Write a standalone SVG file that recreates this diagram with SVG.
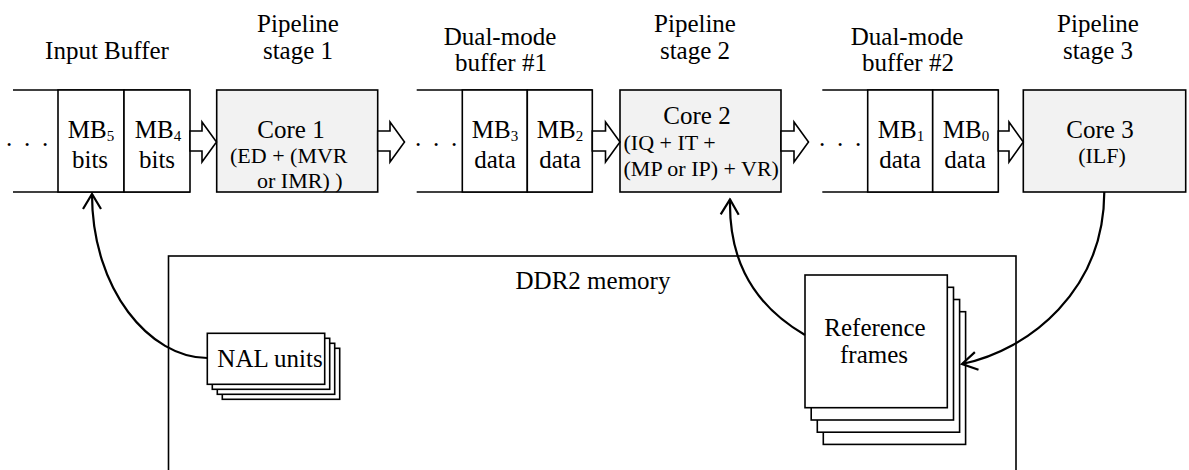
<svg xmlns="http://www.w3.org/2000/svg" width="1189" height="470" viewBox="0 0 1189 470">
<defs>
<style>
text{font-family:"Liberation Serif","Times New Roman",serif;fill:#000}
.t{font-size:25px}
.s{font-size:22px}
.sub{font-size:15px}
.mid{text-anchor:middle}
.box{fill:#fff;stroke:#000;stroke-width:1.6}
.core{fill:#f2f2f2;stroke:#000;stroke-width:1.6}
.ln{stroke:#000;stroke-width:1.6;fill:none}
.harrow{fill:#fff;stroke:#000;stroke-width:1.6;stroke-linejoin:miter}
.curve{fill:none;stroke:#000;stroke-width:2.2}
.dots{font-size:25px;letter-spacing:2.75px}
</style>
<marker id="open" viewBox="-17 -11 19 22" markerWidth="19" markerHeight="22" refX="0" refY="0" orient="auto" markerUnits="userSpaceOnUse">
<path d="M-15,-9 L0,0 L-15,9" fill="none" stroke="#000" stroke-width="2.2"/>
</marker>
</defs>
<rect width="1189" height="470" fill="#fff"/>

<g id="labels">
<text class="t mid" x="107" y="59">Input Buffer</text>
<text class="t mid" x="298" y="32">Pipeline</text>
<text class="t mid" x="298" y="59">stage 1</text>
<text class="t mid" x="500" y="45">Dual-mode</text>
<text class="t mid" x="501" y="71">buffer #1</text>
<text class="t mid" x="695" y="32">Pipeline</text>
<text class="t mid" x="695" y="59">stage 2</text>
<text class="t mid" x="907" y="45">Dual-mode</text>
<text class="t mid" x="908" y="71">buffer #2</text>
<text class="t mid" x="1098" y="32">Pipeline</text>
<text class="t mid" x="1098" y="59">stage 3</text>
</g>

<g id="input-buffer">
<line class="ln" x1="13" y1="90" x2="190" y2="90"/>
<line class="ln" x1="13" y1="192" x2="190" y2="192"/>
<rect class="box" x="58" y="90" width="66" height="102"/>
<rect class="box" x="124" y="90" width="66" height="102"/>
<text class="dots" x="6" y="146">. . .</text>
<text class="t mid" x="91" y="138">MB<tspan class="sub" dy="3">5</tspan></text>
<text class="t mid" x="90" y="168">bits</text>
<text class="t mid" x="158" y="138">MB<tspan class="sub" dy="3">4</tspan></text>
<text class="t mid" x="157" y="168">bits</text>
</g>

<g id="core1">
<rect class="core" x="216.7" y="90" width="161" height="102"/>
<text class="t mid" x="291" y="138">Core 1</text>
<text class="s" x="230" y="163">(ED + (MVR</text>
<text class="s" x="257" y="188">or IMR) )</text>
</g>

<g id="dual-buffer-1">
<line class="ln" x1="416.7" y1="90" x2="592.3" y2="90"/>
<line class="ln" x1="416.7" y1="192" x2="592.3" y2="192"/>
<rect class="box" x="462.3" y="90" width="65" height="102"/>
<rect class="box" x="527.3" y="90" width="65" height="102"/>
<text class="dots" x="415" y="146">. . .</text>
<text class="t mid" x="495" y="138">MB<tspan class="sub" dy="3">3</tspan></text>
<text class="t mid" x="495" y="168">data</text>
<text class="t mid" x="560" y="138">MB<tspan class="sub" dy="3">2</tspan></text>
<text class="t mid" x="560" y="168">data</text>
</g>

<g id="core2">
<rect class="core" x="620" y="90" width="161" height="102"/>
<text class="t mid" x="697" y="124">Core 2</text>
<text class="s" x="623.5" y="150">(IQ + IT +</text>
<text class="s" x="623.5" y="176">(MP or IP) + VR)</text>
</g>

<g id="dual-buffer-2">
<line class="ln" x1="822.3" y1="90" x2="998.3" y2="90"/>
<line class="ln" x1="822.3" y1="192" x2="998.3" y2="192"/>
<rect class="box" x="867.7" y="90" width="65" height="102"/>
<rect class="box" x="932.7" y="90" width="65.6" height="102"/>
<text class="dots" x="819" y="146">. . .</text>
<text class="t mid" x="901" y="138">MB<tspan class="sub" dy="3">1</tspan></text>
<text class="t mid" x="900" y="168">data</text>
<text class="t mid" x="966" y="138">MB<tspan class="sub" dy="3">0</tspan></text>
<text class="t mid" x="965" y="168">data</text>
</g>

<g id="core3">
<rect class="core" x="1023.3" y="90" width="162.4" height="102"/>
<text class="t mid" x="1100" y="138">Core 3</text>
<text class="s mid" x="1102" y="163">(ILF)</text>
</g>

<g id="ddr2-memory">
<rect class="box" x="168.5" y="256" width="847.5" height="240"/>
<text class="t mid" x="593" y="289">DDR2 memory</text>
</g>

<g id="nal-units">
<rect class="box" x="222.3" y="348.3" width="117.4" height="51"/>
<rect class="box" x="217.3" y="343.3" width="117.4" height="51"/>
<rect class="box" x="212.3" y="338.3" width="117.4" height="51"/>
<rect class="box" x="207.3" y="333.3" width="117.4" height="51"/>
<text class="t mid" x="270" y="367">NAL units</text>
</g>

<g id="reference-frames">
<rect class="box" x="823.3" y="311.7" width="142.3" height="132.7"/>
<rect class="box" x="817.3" y="299.5" width="142.3" height="132.7"/>
<rect class="box" x="811.2" y="287.3" width="142.3" height="132.7"/>
<rect class="box" x="805" y="275" width="142.3" height="132.7"/>
<text class="t mid" x="875" y="336">Reference</text>
<text class="t mid" x="874" y="363">frames</text>
</g>

<g id="connectors">
<polygon class="harrow" points="190,131 202,131 202,122 216.5,142 202,162 202,151 190,151"/>
<polygon class="harrow" points="377.7,131 390,131 390,122 404.5,142 390,162 390,151 377.7,151"/>
<polygon class="harrow" points="592.3,131 605.5,131 605.5,122 620,142 605.5,162 605.5,151 592.3,151"/>
<polygon class="harrow" points="781,131 794,131 794,122 808.5,142 794,162 794,151 781,151"/>
<polygon class="harrow" points="998.3,131 1009,131 1009,122 1023.3,142 1009,162 1009,151 998.3,151"/>
<path class="curve" d="M207.3,358 C150,358 92,290 92,194" marker-end="url(#open)"/>
<path class="curve" d="M805,335 C745,300 729,250 730,199.5" marker-end="url(#open)"/>
<path class="curve" d="M1104.3,192 C1104,290 1030,350 962,364" marker-end="url(#open)"/>
</g>
</svg>
